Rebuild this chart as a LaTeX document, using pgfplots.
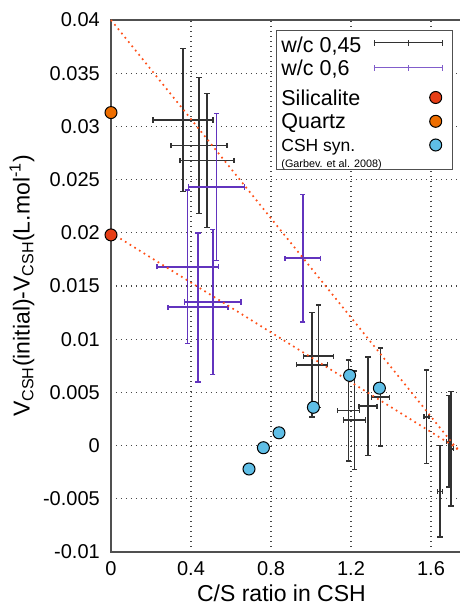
\documentclass[border=0pt]{standalone}
\usepackage{pgfplots}
\pgfplotsset{compat=1.18}
\usepackage{pgfplotstable}
\usepackage{fontspec}
\setmainfont{Liberation Sans}

\definecolor{silred}{RGB}{230,62,22}
\definecolor{quartzor}{RGB}{238,110,0}
\definecolor{cshblue}{RGB}{95,190,230}
\definecolor{purplebar}{RGB}{98,52,190}
\definecolor{blackbar}{RGB}{50,50,50}
\definecolor{reddot}{RGB}{255,80,25}
\definecolor{gridc}{RGB}{70,70,70}
\definecolor{axisc}{RGB}{80,80,80}

\pgfplotstableread{
x y ex ey
0.36 0.0306 0.150 0.0067
0.44 0.0282 0.139 0.0064
0.48 0.0268 0.135 0.0063
1.0375 0.0084 0.076 0.0048
1.005 0.0076 0.0775 0.0049
1.187 0.0033 0.055 0.00475
1.2175 0.0024 0.055 0.00463
1.285 0.0037 0.045 0.00464
1.3475 0.00455 0.046 0.0046
1.578 0.0027 0.012 0.0044
1.645 -0.0043 0.012 0.0043
1.69 0.0004 0.012 0.0043
1.70 -0.0003 0.012 0.0054
}\wcA

\pgfplotstableread{
x y ex ey
0.527 0.0243 0.140 0.0069
0.383 0.0168 0.154 0.0072
0.435 0.0130 0.150 0.0070
0.5085 0.0135 0.142 0.0068
0.9585 0.0176 0.0885 0.0060
}\wcB

\pgfplotstableread{
x y
0.69 -0.0022
0.762 -0.0002
0.84 0.0012
1.012 0.0036
1.193 0.0066
1.342 0.0054
}\csh

\newcommand{\legtext}[4]{\makebox[91.7pt][l]{\rule[-#2]{0pt}{\dimexpr#1+#2\relax}\smash{\fontsize{#3}{#3}\selectfont #4}}}

\pgfplotsset{
  errlegend/.style={legend image code/.code={%
    \draw[##1, line width=1.2pt, yshift=#1] (0pt,0pt) -- (69pt,0pt)
      (0.6pt,-3pt) -- (0.6pt,3pt) (34.5pt,-3pt) -- (34.5pt,3pt) (68.4pt,-3pt) -- (68.4pt,3pt);
    \path[yshift=#1] (0pt,0pt) (73pt,0pt);}},
  dotlegend/.style={legend image code/.code={%
    \path[yshift=#1] (0pt,0pt) (73pt,0pt);
    \draw[##1] plot coordinates {(62pt,#1)};}},
}

\begin{document}
\begin{tikzpicture}
\begin{axis}[
  scale only axis, width=350pt, height=532pt,
  xmin=0, xmax=1.75, ymin=-0.01, ymax=0.04,
  clip=false,
  axis line style={draw=axisc, line width=1.5pt},
  grid=major,
  grid style={draw=gridc, line width=1.1pt, dash pattern=on 1.1pt off 3.9pt},
  major tick length=0pt,
  xtick={0,0.4,0.8,1.2,1.6},
  xticklabels={0,0.4,0.8,1.2,1.6},
  ytick={-0.01,-0.005,0,0.005,0.01,0.015,0.02,0.025,0.03,0.035,0.04},
  yticklabels={-0.01,-0.005,0,0.005,0.01,0.015,0.02,0.025,0.03,0.035,0.04},
  scaled ticks=false,
  tick label style={font=\fontsize{20}{24}\selectfont},
  yticklabel style={inner sep=0pt, xshift=-11pt},
  xticklabel style={inner sep=0pt, yshift=-9pt},
  xlabel={C/S ratio in CSH},
  xlabel style={font=\fontsize{23}{27}\selectfont, at={(axis description cs:0.487,-0.0925)}, anchor=base},
  ylabel={V\textsubscript{CSH}(initial)-V\textsubscript{CSH}(L.mol\textsuperscript{-1})},
  ylabel style={font=\fontsize{23}{27}\selectfont, at={(axis description cs:-0.2543,0.5)}, anchor=center},
  legend plot pos=right,
  legend style={at={(0.9763,0.9812)}, anchor=north east, draw=axisc, line width=1pt, fill=white,
    inner xsep=5pt, inner ysep=0pt, cells={anchor=base west}, nodes={inner sep=0pt},
    column sep=0pt, row sep=0pt},
]
\addlegendimage{errlegend=10pt, draw=blackbar}
\addlegendentry{\legtext{22.3pt}{0pt}{21.5}{w/c 0,45}}
\addlegendimage{errlegend=7.6pt, draw=purplebar!80!white}
\addlegendentry{\legtext{21pt}{0pt}{21.5}{w/c 0,6}}
\addlegendimage{dotlegend=7.7pt, only marks, mark=*, mark size=6pt, mark options={fill=silred, draw=black, line width=1pt}}
\addlegendentry{\legtext{28.4pt}{0pt}{21.5}{Silicalite}}
\addlegendimage{dotlegend=7pt, only marks, mark=*, mark size=6pt, mark options={fill=quartzor, draw=black, line width=1pt}}
\addlegendentry{\legtext{21.6pt}{0pt}{21.5}{Quartz}}
\addlegendimage{dotlegend=6.5pt, only marks, mark=*, mark size=6pt, mark options={fill=cshblue, draw=black, line width=1pt}}
\addlegendentry{\legtext{21.7pt}{0pt}{17.5}{CSH syn.}}
\addlegendimage{empty legend}
\addlegendentry{\legtext{15pt}{6.7pt}{10.8}{(Garbev. et al. 2008)}}

% error bars w/c 0.45
\addplot[forget plot, draw=none, mark=none,
  error bars/.cd, x dir=both, x explicit, y dir=both, y explicit,
  error bar style={draw=blackbar, line width=1.6pt, solid},
  error mark options={rotate=90, draw=blackbar, line width=1.5pt, mark size=2.6pt}]
  table[x=x, y=y, x error=ex, y error=ey] {\wcA};
% error bars w/c 0.6
\addplot[forget plot, draw=none, mark=none,
  error bars/.cd, x dir=both, x explicit, y dir=both, y explicit,
  error bar style={draw=purplebar, line width=1.7pt, solid},
  error mark options={rotate=90, draw=purplebar, line width=1.6pt, mark size=2.6pt}]
  table[x=x, y=y, x error=ex, y error=ey] {\wcB};
% dotted trend lines
\addplot[forget plot, draw=reddot, line width=1.7pt, dash pattern=on 1.7pt off 3.8pt] coordinates {(0,0.04) (1.74,-0.00054)};
\addplot[forget plot, draw=reddot, line width=1.7pt, dash pattern=on 1.7pt off 3.8pt] coordinates {(0,0.02) (1.74,-0.00036)};
% markers
\addplot[forget plot, only marks, mark=*, mark size=6pt, mark options={fill=cshblue, draw=black, line width=1pt}] table[x=x, y=y] {\csh};
\addplot[forget plot, only marks, mark=*, mark size=6pt, mark options={fill=silred, draw=black, line width=1pt}] coordinates {(0,0.0198)};
\addplot[forget plot, only marks, mark=*, mark size=6pt, mark options={fill=quartzor, draw=black, line width=1pt}] coordinates {(0,0.0313)};
\end{axis}
\pgfresetboundingbox
\useasboundingbox (-111pt,-53pt) rectangle (348pt,552pt);
\end{tikzpicture}
\end{document}
